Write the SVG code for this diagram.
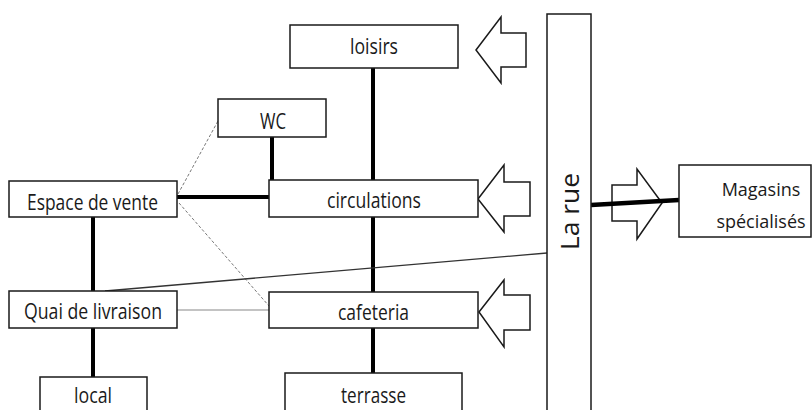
<svg xmlns="http://www.w3.org/2000/svg" width="812" height="410" viewBox="0 0 812 410">
<style>
.box{fill:#fff;stroke:#1a1a1a;stroke-width:1.5}
.t{font-family:"Open Sans","Liberation Sans",sans-serif;font-size:21px;fill:#1a1a1a;text-anchor:middle}
.m{font-size:18px}
.thick{stroke:#000;stroke-width:4;fill:none}
.dot{stroke:#777;stroke-width:1;stroke-dasharray:3 2;fill:none}
.thin{stroke:#888;stroke-width:1.2;fill:none}
.arrow{fill:#fff;stroke:#1a1a1a;stroke-width:1.5;stroke-linejoin:miter}
</style>
<rect width="812" height="410" fill="#fff"/>
<g id="connectors">
<line class="thick" x1="373" y1="68" x2="373" y2="180"/>
<line class="thick" x1="373" y1="217" x2="373" y2="292"/>
<line class="thick" x1="373" y1="328" x2="373" y2="373"/>
<polyline class="thick" points="177,197 272,197 272,137"/>
<line class="thick" x1="93" y1="217" x2="93" y2="291"/>
<line class="thick" x1="93" y1="328" x2="93" y2="377"/>
<line class="dot" x1="178" y1="194" x2="218" y2="121"/>
<line class="dot" x1="179" y1="203" x2="269" y2="306"/>
<line class="thin" x1="177" y1="310" x2="269" y2="310"/>
<line stroke="#333" stroke-width="1.3" x1="105" y1="291" x2="547" y2="253"/>
<polygon class="arrow" points="476,50 501,17 501,33 526,33 526,67 501,67 501,83"/>
<polygon class="arrow" points="478,199 504,165 504,182 530,182 530,216 504,216 504,232"/>
<polygon class="arrow" points="479,312 504,280 504,295 530,295 530,330 504,330 504,347"/>
<polygon class="arrow" points="662,203 637,169 637,185 612,185 612,221 637,221 637,239"/>
<line stroke="#000" stroke-width="4.5" x1="591" y1="205" x2="679" y2="200"/>
</g>
<g id="loisirs"><rect class="box" x="290" y="25" width="168" height="43"/><text class="t" x="374" y="54" textLength="48" lengthAdjust="spacingAndGlyphs">loisirs</text></g>
<g id="wc"><rect class="box" x="218" y="99" width="108" height="38"/><text class="t" x="273" y="129" textLength="26" lengthAdjust="spacingAndGlyphs">WC</text></g>
<g id="espace"><rect class="box" x="9" y="181" width="168" height="36"/><text class="t" x="92.5" y="210" textLength="131" lengthAdjust="spacingAndGlyphs">Espace de vente</text></g>
<g id="circulations"><rect class="box" x="269" y="180" width="209" height="37"/><text class="t" x="374" y="208" textLength="94" lengthAdjust="spacingAndGlyphs">circulations</text></g>
<g id="quai"><rect class="box" x="9" y="291" width="168" height="37"/><text class="t" x="93" y="319" textLength="138" lengthAdjust="spacingAndGlyphs">Quai de livraison</text></g>
<g id="cafeteria"><rect class="box" x="269" y="292" width="209" height="36"/><text class="t" x="373.5" y="320" textLength="71" lengthAdjust="spacingAndGlyphs">cafeteria</text></g>
<g id="local"><rect class="box" x="40" y="377" width="107" height="45"/><text class="t" x="93" y="403" textLength="38" lengthAdjust="spacingAndGlyphs">local</text></g>
<g id="terrasse"><rect class="box" x="285" y="373" width="177" height="50"/><text class="t" x="373.5" y="403" textLength="65" lengthAdjust="spacingAndGlyphs">terrasse</text></g>
<g id="rue"><rect class="box" x="547" y="14" width="44" height="410"/><text class="t" style="font-size:25px" transform="translate(579,211.5) rotate(-90)" x="0" y="0" textLength="77" lengthAdjust="spacingAndGlyphs">La rue</text></g>
<g id="magasins"><rect class="box" x="679" y="165" width="132" height="72"/><text class="t m" x="761" y="196">Magasins</text><text class="t m" x="761" y="228">spécialisés</text></g>
</svg>
